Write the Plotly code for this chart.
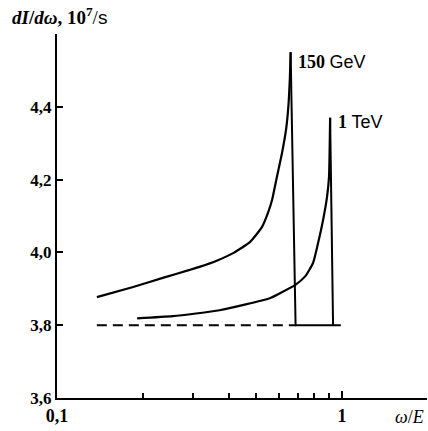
import plotly.graph_objects as go

# 150 GeV curve (omega/E, dI/domega in 1e7/s)
x_150 = [0.138, 0.185, 0.235, 0.292, 0.318, 0.365, 0.415, 0.476, 0.524, 0.550, 0.568, 0.591, 0.616, 0.636, 0.648, 0.656, 0.660]
y_150 = [3.877, 3.905, 3.930, 3.952, 3.961, 3.978, 3.998, 4.029, 4.070, 4.109, 4.144, 4.208, 4.274, 4.337, 4.400, 4.480, 4.550]
# 150 GeV cut-off edge
x_150_edge = [0.660, 0.687, 0.99]
y_150_edge = [4.550, 3.80, 3.80]

# 1 TeV curve
x_1tev = [0.191, 0.255, 0.372, 0.557, 0.606, 0.684, 0.742, 0.791, 0.824, 0.858, 0.886, 0.900, 0.908]
y_1tev = [3.819, 3.825, 3.841, 3.874, 3.888, 3.910, 3.934, 3.971, 4.026, 4.089, 4.153, 4.208, 4.370]
# 1 TeV cut-off edge
x_1tev_edge = [0.908, 0.930]
y_1tev_edge = [4.370, 3.80]

# dashed asymptote
x_dash = [0.138, 0.687]
y_dash = [3.80, 3.80]

y_ticks = [3.6, 3.8, 4.0, 4.2, 4.4]
y_ticktext = ["3,6", "3,8", "4,0", "4,2", "4,4"]
x_ticks = [0.1, 1]
x_ticktext = ["0,1", "1"]
x_minor = [0.2, 0.3, 0.4, 0.5, 0.6, 0.7, 0.8, 0.9]

serif = "Liberation Serif"
sans = "Liberation Sans"

fig = go.Figure()
for xs, ys in [(x_150, y_150), (x_1tev, y_1tev)]:
    fig.add_trace(go.Scatter(x=xs, y=ys, mode="lines",
                             line=dict(color="black", width=2.2, shape="spline", smoothing=0.5),
                             showlegend=False))
for xs, ys in [(x_150_edge, y_150_edge), (x_1tev_edge, y_1tev_edge)]:
    fig.add_trace(go.Scatter(x=xs, y=ys, mode="lines",
                             line=dict(color="black", width=2), showlegend=False))
fig.add_trace(go.Scatter(x=x_dash, y=y_dash, mode="lines",
                         line=dict(color="black", width=2, dash="10px,6px"), showlegend=False))

fig.update_layout(
    width=428, height=431,
    margin=dict(l=57, r=1, t=34, b=33),
    paper_bgcolor="white", plot_bgcolor="white",
    xaxis=dict(type="log", range=[-1, 0.298], showgrid=False, zeroline=False, automargin=False,
               showline=True, linecolor="black", linewidth=2,
               tickvals=x_ticks, ticktext=["<b>%s</b>" % t for t in x_ticktext],
               ticks="inside", ticklen=7, tickwidth=1.5, tickcolor="black",
               minor=dict(tickvals=x_minor, ticks="inside", ticklen=5, tickwidth=1.5, tickcolor="black"),
               tickfont=dict(family=serif, size=18, color="black")),
    yaxis=dict(range=[3.6, 4.6], showgrid=False, zeroline=False, automargin=False,
               showline=True, linecolor="black", linewidth=2,
               tickvals=y_ticks, ticktext=["<b>%s</b>" % t for t in y_ticktext],
               ticks="inside", ticklen=6, tickwidth=1.5, tickcolor="black",
               tickfont=dict(family=serif, size=17, color="black")),
    font=dict(family=serif, color="black"),
)

fig.add_annotation(xref="paper", yref="paper", x=-0.127, y=1.012, xanchor="left", yanchor="bottom",
                   text="<b><i>dI</i>/<i>dω</i>, 10<sup>7</sup></b>/<span style='font-family:Liberation Sans'>s</span>",
                   showarrow=False, font=dict(family=serif, size=19, color="black"))
fig.add_annotation(xref="paper", yref="paper", x=0.997, y=-0.02, xanchor="right", yanchor="top",
                   text="<i>ω</i>/<i>E</i>", showarrow=False,
                   font=dict(family=serif, size=18, color="black"))
fig.add_annotation(x=-0.161, y=4.524, xref="x", yref="y", xanchor="left", yanchor="middle",
                   text="<b>150</b> <span style='font-family:Liberation Sans'>GeV</span>",
                   showarrow=False, font=dict(family=serif, size=18, color="black"))
fig.add_annotation(x=-0.021, y=4.359, xref="x", yref="y", xanchor="left", yanchor="middle",
                   text="<b>1</b> <span style='font-family:Liberation Sans'>TeV</span>",
                   showarrow=False, font=dict(family=serif, size=18, color="black"))

fig.write_html("out.html", config={"displayModeBar": False},
               post_script="document.body.style.margin='0';document.body.style.overflow='hidden';")
